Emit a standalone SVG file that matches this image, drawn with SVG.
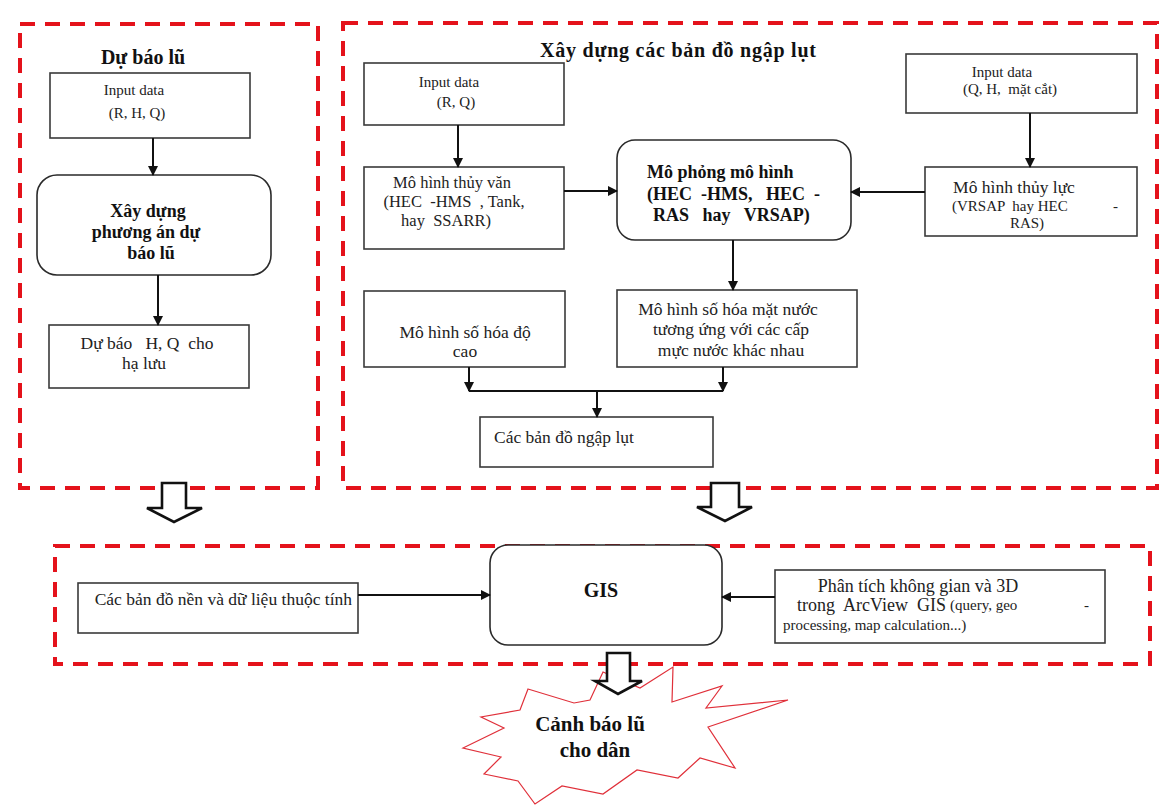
<svg xmlns="http://www.w3.org/2000/svg" width="1162" height="806" viewBox="0 0 1162 806">
  <style>
    .frame { fill: none; stroke: #e4121b; stroke-width: 4; stroke-dasharray: 15 10; }
    .box { fill: #ffffff; stroke: #3a3a3a; stroke-width: 1.6; }
    .rbox { fill: #ffffff; stroke: #2a2a2a; stroke-width: 1.6; }
    .t { font-family: "Liberation Serif", "Times New Roman", "DejaVu Serif", serif; font-size: 17.5px; fill: #222; white-space: pre; }
    .s { font-family: "Liberation Serif", "Times New Roman", "DejaVu Serif", serif; font-size: 15px; fill: #222; white-space: pre; }
    .b { font-family: "Liberation Serif", "Times New Roman", "DejaVu Serif", serif; font-size: 18px; font-weight: bold; fill: #111; white-space: pre; }
    .h { font-family: "Liberation Serif", "Times New Roman", "DejaVu Serif", serif; font-size: 20px; font-weight: bold; fill: #111; white-space: pre; }
    .c { text-anchor: middle; }
    .link { fill: none; stroke: #111; stroke-width: 2; }
    .hollow { fill: #ffffff; stroke: #111; stroke-width: 2.6; stroke-linejoin: miter; }
    .burst { fill: #ffffff; stroke: #e0303a; stroke-width: 1.2; }
  </style>
  <defs>
    <marker id="arr" viewBox="0 0 10 10" refX="9" refY="5" markerWidth="5" markerHeight="5" orient="auto" markerUnits="strokeWidth">
      <path d="M0,0 L10,5 L0,10 Z" fill="#111"/>
    </marker>
  </defs>

  <rect width="1162" height="806" fill="#ffffff"/>

  <!-- dashed group frames -->
  <g id="frames">
    <rect class="frame" x="20" y="24" width="298" height="464"/>
    <rect class="frame" x="343" y="23" width="814" height="465"/>
    <rect class="frame" x="55" y="546" width="1095" height="118"/>
  </g>

  <!-- section titles -->
  <text class="h c" x="143" y="64">Dự báo lũ</text>
  <text class="h" x="540" y="57" textLength="276" lengthAdjust="spacing">Xây dựng các bản đồ ngập lụt</text>

  <!-- forecasting column -->
  <g id="input-rhq">
    <rect class="box" x="50" y="73" width="200" height="65"/>
    <text class="s c" x="134" y="95">Input data</text>
    <text class="s c" x="137" y="118">(R, H, Q)</text>
  </g>
  <g id="forecast-plan">
    <rect class="rbox" x="37" y="175" width="234" height="100" rx="20"/>
    <text class="b c" x="148" y="217">Xây dựng</text>
    <text class="b c" x="146" y="238">phương án dự</text>
    <text class="b c" x="151" y="259">báo lũ</text>
  </g>
  <g id="forecast-hq">
    <rect class="box" x="49" y="325" width="200" height="63"/>
    <text class="t c" x="147" y="349">Dự báo   H, Q  cho</text>
    <text class="t c" x="144" y="369">hạ lưu</text>
  </g>

  <!-- flood map column -->
  <g id="input-rq">
    <rect class="box" x="364" y="63" width="200" height="62"/>
    <text class="s c" x="449" y="87">Input data</text>
    <text class="s c" x="456" y="107">(R, Q)</text>
  </g>
  <g id="hydrology">
    <rect class="box" x="364" y="167" width="200" height="82"/>
    <text class="t c" x="452" y="188" style="font-size:16.5px">Mô hình thủy văn</text>
    <text class="t c" x="454" y="207" style="font-size:16.5px">(HEC  -HMS  , Tank,</text>
    <text class="t c" x="446" y="226" style="font-size:16.5px">hay  SSARR)</text>
  </g>
  <g id="simulation">
    <rect class="rbox" x="617" y="140" width="234" height="100" rx="18"/>
    <text class="b" x="647" y="178">Mô phỏng mô hình</text>
    <text class="b" x="647" y="200">(HEC  -HMS,   HEC  -</text>
    <text class="b" x="653" y="221">RAS   hay   VRSAP)</text>
  </g>
  <g id="input-qh">
    <rect class="box" x="906" y="54" width="231" height="59"/>
    <text class="s c" x="1002" y="77">Input data</text>
    <text class="s c" x="1010" y="94">(Q, H,  mặt cắt)</text>
  </g>
  <g id="hydraulics">
    <rect class="box" x="925" y="167" width="212" height="69"/>
    <text class="t c" x="1014" y="193">Mô hình thủy lực</text>
    <text class="s" x="952" y="211">(VRSAP  hay HEC</text>
    <text class="s" x="1113" y="211">-</text>
    <text class="s c" x="1027" y="228">RAS)</text>
  </g>
  <g id="dem">
    <rect class="box" x="364" y="291" width="201" height="76"/>
    <text class="t c" x="465" y="338">Mô hình số hóa độ</text>
    <text class="t c" x="465" y="357">cao</text>
  </g>
  <g id="water-surface">
    <rect class="box" x="617" y="290" width="240" height="77"/>
    <text class="t c" x="728" y="315">Mô hình số hóa mặt nước</text>
    <text class="t c" x="731" y="335">tương ứng với các cấp</text>
    <text class="t c" x="731" y="356">mực nước khác nhau</text>
  </g>
  <g id="flood-maps">
    <rect class="box" x="480" y="417" width="233" height="50"/>
    <text class="t" x="494" y="443">Các bản đồ ngập lụt</text>
  </g>

  <!-- GIS row -->
  <g id="base-maps">
    <rect class="box" x="78" y="583" width="280" height="50"/>
    <text class="t" x="352" y="605" text-anchor="end">Các bản đồ nền và dữ liệu thuộc tính</text>
  </g>
  <g id="gis">
    <rect class="rbox" x="490" y="545" width="232" height="100" rx="18"/>
    <text class="h c" x="601" y="597">GIS</text>
  </g>
  <g id="spatial-analysis">
    <rect class="box" x="775" y="570" width="330" height="73"/>
    <text class="t c" x="918" y="592" style="font-size:18px">Phân tích không gian và 3D</text>
    <text class="t" x="797" y="611" style="font-size:18px">trong  ArcView  GIS</text>
    <text class="s" x="950" y="610">(query, geo</text>
    <text class="s" x="1084" y="610">-</text>
    <text class="s" x="783" y="630">processing, map calculation...)</text>
  </g>

  <!-- warning burst -->
  <g id="warning">
    <polygon class="burst" points="528,689 574,703 590,700 603,672 640,688 673,667 672,702 722,686 706,708 788,700 708,727 735,768 700,758 678,778 637,770 603,794 562,786 535,804 518,781 484,774 501,757 463,748 504,728 481,717 520,710"/>
    <text class="h c" x="590" y="731" style="font-size:21px">Cảnh báo lũ</text>
    <text class="h c" x="595" y="757" style="font-size:21px">cho dân</text>
  </g>

  <!-- connectors -->
  <g id="connectors">
    <line class="link" x1="153" y1="138" x2="153" y2="175" marker-end="url(#arr)"/>
    <line class="link" x1="158" y1="275" x2="158" y2="325" marker-end="url(#arr)"/>
    <line class="link" x1="458" y1="125" x2="458" y2="167" marker-end="url(#arr)"/>
    <line class="link" x1="564" y1="191" x2="617" y2="191" marker-end="url(#arr)"/>
    <line class="link" x1="925" y1="192" x2="851" y2="192" marker-end="url(#arr)"/>
    <line class="link" x1="1030" y1="113" x2="1030" y2="167" marker-end="url(#arr)"/>
    <line class="link" x1="733" y1="240" x2="733" y2="290" marker-end="url(#arr)"/>
    <line class="link" x1="469" y1="367" x2="469" y2="391" marker-end="url(#arr)"/>
    <line class="link" x1="723" y1="367" x2="723" y2="391" marker-end="url(#arr)"/>
    <line class="link" x1="469" y1="391" x2="723" y2="391" stroke-width="1.6"/>
    <line class="link" x1="597" y1="391" x2="597" y2="417" marker-end="url(#arr)"/>
    <line class="link" x1="358" y1="595" x2="490" y2="595" marker-end="url(#arr)"/>
    <line class="link" x1="775" y1="597" x2="722" y2="597" marker-end="url(#arr)"/>
    <!-- hollow block arrows between stages -->
    <path class="hollow" d="M162,483 H186 V508 H202 L174,522 L147,508 H162 Z"/>
    <path class="hollow" d="M711,483 H739 V507 H752 L725,521 L697,507 H711 Z"/>
    <path class="hollow" d="M607,653 H630 V681 H642 L618,694 L595,681 H607 Z"/>
  </g>
</svg>
